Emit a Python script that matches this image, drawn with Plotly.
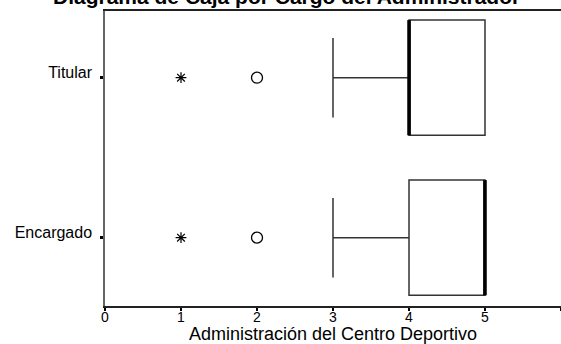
import plotly.graph_objects as go

# Summary statistics per administrator position (scale 0-6)
cargos = ["Titular", "Encargado"]
q1 = [4, 4]
mediana = [4, 5]
q3 = [5, 5]
bigote_inf = [3, 3]
bigote_sup = [5, 5]
atipicos = [2, 2]      # outliers (circle)
extremos = [1, 1]      # extreme values (asterisk)

x_ticks = [0, 1, 2, 3, 4, 5, 6]

FONT = "Liberation Sans, Arial, sans-serif"
BOX_HALF = 0.36
pos = [len(cargos) - 1 - i for i in range(len(cargos))]

fig = go.Figure()

fig.add_trace(go.Box(
    y=pos, q1=q1, median=mediana, q3=q3,
    lowerfence=bigote_inf, upperfence=bigote_sup,
    orientation="h", width=2 * BOX_HALF, whiskerwidth=0.69,
    boxpoints=False, fillcolor="white",
    line=dict(color="#333333", width=1.5),
    showlegend=False, hoverinfo="skip",
))

# Thick median bars
for p, m in zip(pos, mediana):
    fig.add_trace(go.Scatter(
        x=[m, m], y=[p - BOX_HALF, p + BOX_HALF], mode="lines",
        line=dict(color="black", width=3.5), showlegend=False, hoverinfo="skip",
    ))

fig.add_trace(go.Scatter(
    x=atipicos, y=pos, mode="markers",
    marker=dict(symbol="circle-open", size=11, color="black", line=dict(width=1.3)),
    showlegend=False, hoverinfo="skip",
))
fig.add_trace(go.Scatter(
    x=extremos, y=pos, mode="markers",
    marker=dict(symbol="asterisk-open", size=9, color="black", line=dict(width=1.2)),
    showlegend=False, hoverinfo="skip",
))

fig.add_annotation(
    text="<b>Diagrama de Caja por Cargo del Administrador</b>",
    xref="paper", yref="paper", x=(286 - 105) / 456, y=1.0,
    yshift=15, xanchor="center", yanchor="middle", showarrow=False,
    font=dict(family=FONT, size=21, color="black"),
)

fig.update_layout(
    width=561, height=344,
    margin=dict(l=105, r=0, t=11, b=38, autoexpand=False),
    paper_bgcolor="white", plot_bgcolor="white",
    font=dict(family=FONT, color="black"),
    xaxis=dict(
        range=[0, 6], tickvals=x_ticks, ticktext=[str(v) for v in x_ticks],
        automargin=False,
        showgrid=False, zeroline=False,
        showline=True, linecolor="#222222", linewidth=1.5, mirror=True,
        ticks="outside", ticklen=3, tickwidth=2, tickcolor="black",
        tickfont=dict(size=14), ticklabelstandoff=-6,
        title=dict(text="Administración del Centro Deportivo",
                   font=dict(size=18), standoff=7),
    ),
    yaxis=dict(
        range=[-0.427, 1.417], tickvals=pos, ticktext=cargos,
        automargin=False,
        showgrid=False, zeroline=False,
        showline=True, linecolor="#666666", linewidth=1.5,
        ticks="outside", ticklen=3, tickwidth=3, tickcolor="black",
        tickfont=dict(size=16), ticklabelshift=-5, ticklabelstandoff=5,
    ),
)

fig.write_html("out.html")
